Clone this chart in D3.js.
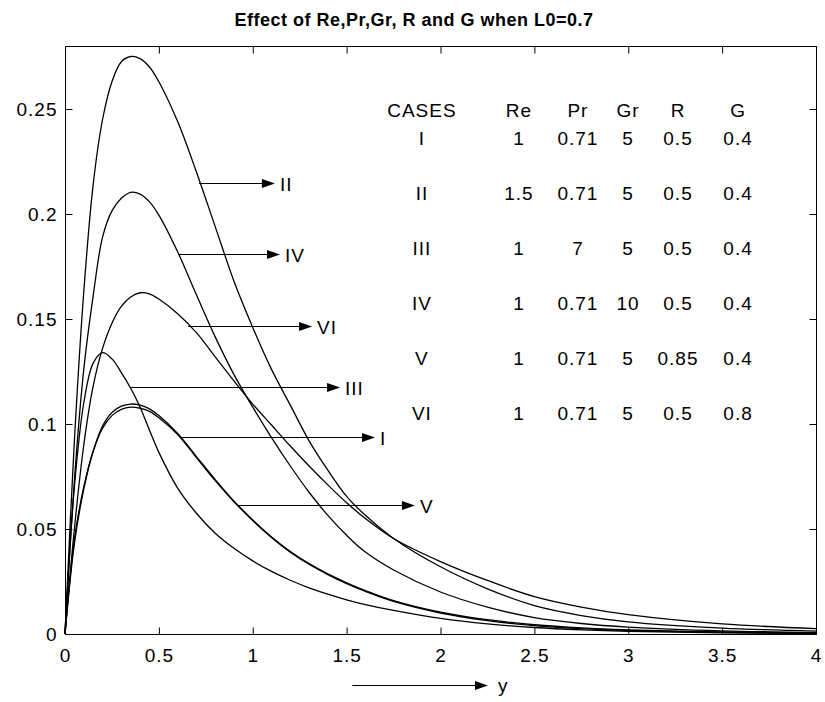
<!DOCTYPE html>
<html><head><meta charset="utf-8">
<script src="https://cdn.jsdelivr.net/npm/d3@7"></script>
<style>body{margin:0;background:#fff}svg{display:block}</style>
</head><body><svg id="c" width="825" height="702"></svg>
<script>
// ---------- data ----------
const xs = [0,0.05,0.1,0.15,0.2,0.25,0.3,0.35,0.4,0.45,0.5,0.6,0.7,0.8,0.9,1.0,1.1,1.2,1.3,1.4,1.5,1.6,1.75,2.0,2.25,2.5,2.75,3.0,3.5,4.0];
const caseI   = [0,0.045,0.070,0.087,0.098,0.104,0.107,0.108,0.1075,0.106,0.103,0.095,0.084,0.073,0.063,0.054,0.046,0.039,0.0332,0.0283,0.0240,0.0203,0.0155,0.0100,0.0064,0.0040,0.0026,0.0017,0.0008,0.0003];
const caseII  = [0,0.092,0.163,0.214,0.245,0.263,0.2725,0.275,0.274,0.270,0.263,0.244,0.220,0.194,0.168,0.146,0.126,0.109,0.092,0.078,0.0655,0.0565,0.0455,0.032,0.0215,0.0135,0.0088,0.0058,0.0028,0.0014];
const caseIII = [0,0.070,0.110,0.129,0.134,0.131,0.1245,0.117,0.108,0.097,0.0865,0.0695,0.0575,0.048,0.0408,0.0348,0.0298,0.0256,0.022,0.019,0.0163,0.014,0.0112,0.0074,0.0048,0.0031,0.0020,0.0013,0.0006,0.0002];
const caseIV  = [0,0.073,0.126,0.161,0.189,0.2015,0.2075,0.2103,0.2095,0.2058,0.1995,0.1820,0.1615,0.1415,0.1235,0.108,0.0935,0.080,0.0675,0.0565,0.047,0.039,0.0305,0.020,0.0128,0.0078,0.0050,0.0033,0.0015,0.0007];
const caseV   = [0,0.043,0.069,0.087,0.099,0.1055,0.1085,0.1095,0.109,0.1072,0.104,0.0955,0.0845,0.0735,0.0632,0.0543,0.0462,0.0393,0.0335,0.0286,0.0244,0.0207,0.0159,0.0104,0.0068,0.0044,0.0029,0.0020,0.0010,0.0004];
const caseVI  = [0,0.050,0.090,0.118,0.136,0.148,0.156,0.1605,0.1625,0.162,0.1595,0.1525,0.1435,0.132,0.1205,0.1095,0.0995,0.0895,0.080,0.071,0.0625,0.055,0.0455,0.0345,0.0255,0.0178,0.0128,0.0092,0.0048,0.0026];
const seriesList = [caseI, caseII, caseIII, caseIV, caseV, caseVI];

const xTicks = [0,0.5,1,1.5,2,2.5,3,3.5,4];
const xTickLabels = ["0","0.5","1","1.5","2","2.5","3","3.5","4"];
const yTicks = [0,0.05,0.1,0.15,0.2,0.25];
const yTickLabels = ["0","0.05","0.1","0.15","0.2","0.25"];

const titleText = "Effect of Re,Pr,Gr, R and G when L0=0.7";
const xLabel = "y";

// table of cases
const tableHeader = ["CASES","Re","Pr","Gr","R","G"];
const tableCases = ["I","II","III","IV","V","VI"];
const tableRe = ["1","1.5","1","1","1","1"];
const tablePr = ["0.71","0.71","7","0.71","0.71","0.71"];
const tableGr = ["5","5","5","10","5","5"];
const tableR  = ["0.5","0.5","0.5","0.5","0.85","0.5"];
const tableG  = ["0.4","0.4","0.4","0.4","0.4","0.8"];

// arrow annotations (data units)
const arrowLabels = ["II","IV","VI","III","I","V"];
const arrowY  = [0.2148,0.181,0.1467,0.1176,0.0938,0.0614];
const arrowX0 = [0.714,0.602,0.655,0.346,0.6125,0.921];
const arrowX1 = [1.118,1.145,1.316,1.465,1.651,1.864];

// ---------- layout ----------
const L = {left:65,right:816,top:46,bottom:634,tick:7,font:"'Liberation Sans', Arial, sans-serif",fs:19};
const svg = d3.select("#c");
const X = d3.scaleLinear().domain([0,4]).range([L.left,L.right]);
const Y = d3.scaleLinear().domain([0,0.28]).range([L.bottom,L.top]);

// box
svg.append("rect").attr("x",L.left+0.5).attr("y",L.top+0.5)
  .attr("width",L.right-L.left).attr("height",L.bottom-L.top)
  .attr("fill","none").attr("stroke","#000").attr("stroke-width",1);

function styleAxis(g){
  g.select(".domain").remove();
  g.selectAll(".tick line").attr("stroke","#000").attr("stroke-width",1);
  g.selectAll("text").attr("fill","#000").style("font-family",L.font).style("font-size",L.fs+"px").style("letter-spacing","1px");
}
const fmtX = (d,i)=>xTickLabels[i], fmtY=(d,i)=>yTickLabels[i];
svg.append("g").attr("transform",`translate(0,${L.bottom+0.5})`)
  .call(d3.axisBottom(X).tickValues(xTicks).tickFormat(fmtX).tickSize(-L.tick).tickPadding(14)).call(styleAxis);
svg.append("g").attr("transform",`translate(0,${L.top+0.5})`)
  .call(d3.axisTop(X).tickValues(xTicks).tickFormat("").tickSize(-L.tick)).call(styleAxis);
svg.append("g").attr("transform",`translate(${L.left+0.5},0)`)
  .call(d3.axisLeft(Y).tickValues(yTicks).tickFormat(fmtY).tickSize(-L.tick).tickPadding(8)).call(styleAxis);
svg.append("g").attr("transform",`translate(${L.right+0.5},0)`)
  .call(d3.axisRight(Y).tickValues(yTicks).tickFormat("").tickSize(-L.tick)).call(styleAxis);

// curves
const line = d3.line().x((d,i)=>X(xs[i])).y(d=>Y(d)).curve(d3.curveCatmullRom.alpha(0.5));
svg.append("g").selectAll("path").data(seriesList).join("path")
  .attr("d",line).attr("fill","none").attr("stroke","#000").attr("stroke-width",1.3);

// title
svg.append("text").attr("x",414).attr("y",26).attr("text-anchor","middle")
  .style("font-family",L.font).style("font-size","18px").style("font-weight","bold").style("letter-spacing","0.5px")
  .text(titleText);

// arrows
function arrow(g,x0,x1,y){
  g.append("line").attr("x1",x0).attr("x2",x1-12).attr("y1",y).attr("y2",y).attr("stroke","#000").attr("stroke-width",1.2);
  g.append("path").attr("d",`M${x1},${y} L${x1-13},${y-4.5} L${x1-13},${y+4.5} Z`).attr("fill","#000");
}
const ag = svg.append("g");
arrowLabels.forEach((lab,i)=>{
  const y = Math.round(Y(arrowY[i]))+0.5;
  arrow(ag, X(arrowX0[i]), X(arrowX1[i]), y);
  ag.append("text").attr("x",X(arrowX1[i])+5).attr("y",y+7)
    .style("font-family",L.font).style("font-size",L.fs+"px").style("letter-spacing","1px").text(lab);
});

// x label arrow
const xly = L.bottom+51.5;
arrow(svg, X(1.53), X(2.253), xly);
svg.append("text").attr("x",X(2.253)+10).attr("y",xly+6)
  .style("font-family",L.font).style("font-size",L.fs+"px").text(xLabel);

// table
const colX = [1.901,2.418,2.732,2.999,3.265,3.585];
const headerV = 0.2462, rowStep = 0.0262;
const cols = [tableCases,tableRe,tablePr,tableGr,tableR,tableG];
const tg = svg.append("g").style("font-family",L.font).style("font-size",L.fs+"px").style("letter-spacing","1px").attr("text-anchor","middle");
tableHeader.forEach((h,j)=>tg.append("text").attr("x",X(colX[j])).attr("y",Y(headerV)).text(h));
tableCases.forEach((c,i)=>{
  const yv = 0.2329 - i*rowStep;
  cols.forEach((col,j)=>tg.append("text").attr("x",X(colX[j])).attr("y",Y(yv)).text(col[i]));
});
</script></body></html>
